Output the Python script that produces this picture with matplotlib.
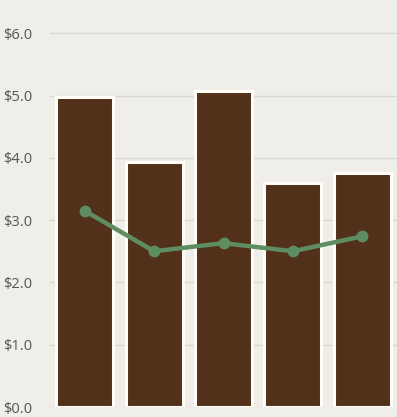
import matplotlib
matplotlib.use("Agg")
import matplotlib.pyplot as plt

# values
categories = ["A", "B", "C", "D", "E"]
bar_values = [4.97, 3.93, 5.07, 3.60, 3.76]
line_values = [3.15, 2.50, 2.63, 2.50, 2.74]
yticks = [0, 1, 2, 3, 4, 5, 6]
ytick_labels = [f"${v:.1f}" for v in yticks]

bg = "#EFEEE8"
bar_color = "#52301A"
line_color = "#5E8D62"

fig = plt.figure(figsize=(3.97, 4.17), dpi=100)
fig.patch.set_facecolor(bg)
ax = fig.add_axes([50 / 397, 10 / 417, 347 / 397, 407 / 417])
ax.set_facecolor(bg)

x = range(len(categories))
ax.bar(x, bar_values, width=0.82, color=bar_color,
       edgecolor="#FFFDF6", linewidth=2.2, zorder=2)
ax.plot(x, line_values, color=line_color, linewidth=3.2,
        marker="o", markersize=7.5, zorder=3)

ax.set_xlim(-0.5, 4.5)
ax.set_ylim(0, 407 / 62.3)
ax.set_yticks(yticks)
ax.set_yticklabels(ytick_labels, fontsize=10.5, color="#555555",
                   family="Open Sans")
ax.set_xticks([])
ax.tick_params(axis="y", length=0, pad=13)
ax.grid(axis="y", color="#DAD8D2", linewidth=1, zorder=0)
for s in ax.spines.values():
    s.set_visible(False)

fig.savefig("out.png", dpi=100, facecolor=bg)
plt.close(fig)
